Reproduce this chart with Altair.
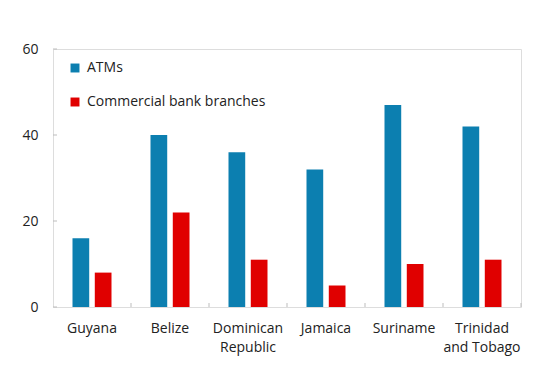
import altair as alt
import pandas as pd

countries = ["Guyana", "Belize", "Dominican|Republic", "Jamaica", "Suriname", "Trinidad|and Tobago"]
atms = [16, 40, 36, 32, 47, 42]
branches = [8, 22, 11, 5, 10, 11]
series = ["ATMs", "Commercial bank branches"]
y_ticks = [0, 20, 40, 60]
x_boundaries = [1, 2, 3, 4, 5, 6]

rows = []
for c, a, b in zip(countries, atms, branches):
    rows.append({"country": c, "series": series[0], "value": a})
    rows.append({"country": c, "series": series[1], "value": b})
df = pd.DataFrame(rows)
xb_df = pd.DataFrame({"b": x_boundaries})
yt_df = pd.DataFrame({"v": y_ticks})

FONT = "Open Sans"
TXT = "#222222"
GRID = "#bdbdbd"

x_scale = alt.Scale(domain=countries, paddingInner=0.5, paddingOuter=0.25)
y_scale = alt.Scale(domain=[0, 60], nice=False)

bars = alt.Chart(df).mark_bar().encode(
    x=alt.X("country:N", sort=countries, scale=x_scale, title=None,
            axis=alt.Axis(labelAngle=0, labelExpr="split(datum.label, '|')",
                          labelFont=FONT, labelFontSize=14, labelColor=TXT,
                          labelPadding=14, ticks=False, domain=False,
                          labelLineHeight=19, labelBaseline="top")),
    xOffset=alt.XOffset("series:N", sort=series,
                        scale=alt.Scale(domain=series, paddingInner=0.25, paddingOuter=0)),
    y=alt.Y("value:Q", scale=y_scale, title=None,
            axis=alt.Axis(values=y_ticks, grid=False, ticks=False, domain=False,
                          labelFont=FONT, labelFontSize=14, labelColor=TXT,
                          labelPadding=15)),
    color=alt.Color("series:N", sort=series,
                    scale=alt.Scale(domain=series, range=["#0C7FB0", "#E00000"]),
                    legend=alt.Legend(title=None, orient="none", legendX=15, legendY=12,
                                      symbolType="square", symbolSize=80,
                                      symbolStrokeWidth=0, labelLimit=0,
                                      labelFont=FONT, labelFontSize=14, labelColor=TXT,
                                      labelOffset=5, rowPadding=20)),
)

xticks = alt.Chart(xb_df).mark_rule(color=GRID, strokeWidth=1).encode(
    x=alt.X("b:Q", scale=alt.Scale(domain=[0, 6], nice=False), axis=None),
    y=alt.value(258),
    y2=alt.value(254),
)

yticks = alt.Chart(yt_df).mark_rule(color=GRID, strokeWidth=1).encode(
    y=alt.Y("v:Q", scale=y_scale),
    x=alt.value(0),
    x2=alt.value(4),
)

chart = alt.layer(bars, xticks, yticks).resolve_scale(x="independent").properties(
    width=468, height=258,
    autosize=alt.AutoSizeParams(type="none"),
    padding={"left": 45, "top": 41, "right": 27, "bottom": 72},
).configure_view(stroke=GRID, strokeWidth=1).configure(background="white")

chart.save("out.html", embed_options={"renderer": "svg", "actions": False})
